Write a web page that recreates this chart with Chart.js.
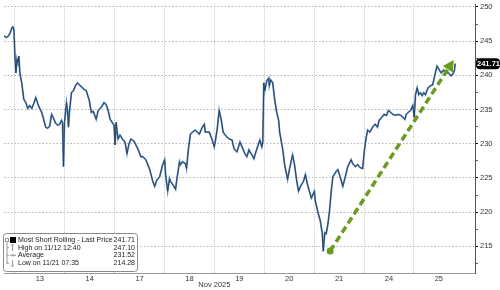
<!DOCTYPE html>
<html>
<head>
<meta charset="utf-8">
<script src="https://cdn.jsdelivr.net/npm/chart.js@4"></script>
<style>
    html, body { margin: 0; padding: 0; background: #fff; }
</style>
</head>
<body>
<canvas id="chart" width="500" height="290"></canvas>
<script>
// Trading days shown on the x axis (each day is one unit wide)
const dayLabels = ['13', '14', '17', '18', '19', '20', '21', '24', '25'];
const monthLabel = 'Nov 2025';

// Intraday price, x = position in trading days (0 = start of the 13th)
const priceX = [
    -0.219, -0.179, -0.139, -0.100, -0.060, -0.040, -0.020, 0.000, 0.020, 0.040, 0.060, 0.080, 0.099,
    0.139, 0.179, 0.219, 0.258, 0.298, 0.338, 0.378, 0.417, 0.457, 0.497, 0.537, 0.577, 0.616,
    0.656, 0.696, 0.736, 0.775, 0.815, 0.855, 0.895, 0.934, 0.954, 0.974, 0.994, 1.034, 1.054,
    1.074, 1.093, 1.133, 1.173, 1.213, 1.253, 1.332, 1.372, 1.431, 1.491, 1.531, 1.571, 1.630,
    1.670, 1.730, 1.789, 1.829, 1.869, 1.909, 1.948, 1.988, 2.008, 2.028, 2.068, 2.107, 2.167,
    2.207, 2.247, 2.286, 2.326, 2.386, 2.465, 2.525, 2.565, 2.624, 2.704, 2.764, 2.803, 2.843,
    2.903, 2.962, 3.002, 3.022, 3.062, 3.101, 3.121, 3.161, 3.221, 3.241, 3.300, 3.320, 3.360,
    3.420, 3.440, 3.479, 3.519, 3.559, 3.619, 3.698, 3.758, 3.797, 3.817, 3.897, 3.956, 3.996,
    4.016, 4.056, 4.096, 4.135, 4.175, 4.215, 4.294, 4.354, 4.394, 4.453, 4.513, 4.553, 4.612,
    4.652, 4.692, 4.752, 4.791, 4.851, 4.911, 4.950, 4.970, 4.990, 5.010, 5.050, 5.090, 5.100,
    5.129, 5.169, 5.209, 5.249, 5.288, 5.308, 5.368, 5.408, 5.467, 5.507, 5.567, 5.606, 5.646,
    5.686, 5.726, 5.785, 5.825, 5.865, 5.905, 5.944, 6.004, 6.024, 6.084, 6.123, 6.163, 6.183,
    6.213, 6.243, 6.276, 6.308, 6.342, 6.376, 6.441, 6.475, 6.507, 6.575, 6.626, 6.674, 6.740,
    6.773, 6.825, 6.873, 6.918, 6.972, 7.004, 7.038, 7.072, 7.117, 7.171, 7.223, 7.270, 7.302,
    7.356, 7.402, 7.450, 7.489, 7.535, 7.581, 7.634, 7.688, 7.734, 7.779, 7.819, 7.847, 7.887,
    7.932, 7.978, 8.006, 8.032, 8.066, 8.098, 8.131, 8.165, 8.197, 8.231, 8.284, 8.330, 8.376,
    8.416, 8.463, 8.509, 8.549, 8.595, 8.642, 8.694, 8.748, 8.782, 8.814, 8.827
];
const priceY = [
    245.82, 245.53, 245.68, 246.11, 246.97, 247.10, 246.69, 242.80, 240.35, 242.36, 241.79, 242.80, 240.35,
    238.76, 236.46, 236.02, 235.16, 235.59, 235.16, 235.88, 236.74, 235.88, 235.16, 234.58, 233.57, 232.42,
    232.27, 232.56, 234.29, 233.72, 233.00, 232.71, 232.85, 233.43, 233.00, 226.66, 233.14, 236.02, 234.87,
    232.42, 234.58, 237.46, 237.75, 238.47, 238.90, 238.33, 238.04, 237.75, 236.31, 234.58, 234.73, 233.57,
    234.87, 235.30, 236.02, 235.73, 234.87, 233.57, 233.14, 232.71, 229.83, 233.14, 230.69, 231.27, 230.55,
    230.26, 228.53, 229.97, 230.69, 230.40, 229.25, 228.10, 228.10, 227.66, 226.22, 224.49, 223.77, 224.64,
    225.21, 226.94, 227.66, 225.50, 223.05, 224.93, 224.49, 224.06, 223.34, 224.49, 227.37, 226.94, 227.37,
    227.09, 226.37, 229.25, 231.41, 231.70, 231.99, 231.41, 232.42, 232.85, 231.70, 231.70, 230.55, 229.54,
    230.26, 232.13, 234.87, 233.57, 231.70, 231.27, 230.69, 230.55, 229.25, 228.81, 230.26, 229.54, 228.53,
    228.10, 229.11, 228.38, 227.81, 229.25, 230.55, 229.54, 230.26, 238.90, 237.75, 239.19, 239.62, 238.47,
    239.34, 238.90, 236.46, 234.58, 233.43, 231.70, 229.25, 226.94, 224.78, 226.37, 228.38, 226.94, 224.78,
    223.05, 223.77, 224.49, 225.50, 224.06, 223.05, 222.04, 223.05, 221.61, 219.74, 218.73, 216.86, 214.28,
    217.00, 216.86, 218.30, 220.17, 223.05, 225.21, 225.93, 226.22, 225.50, 223.77, 225.21, 226.65, 227.66,
    227.09, 226.65, 226.94, 226.51, 226.37, 228.81, 230.69, 231.99, 231.70, 232.42, 232.85, 232.42, 233.43,
    233.86, 234.29, 234.15, 234.87, 234.58, 234.29, 234.15, 234.29, 234.15, 233.86, 233.57, 234.29, 234.58,
    234.87, 235.59, 233.86, 237.17, 238.18, 237.17, 237.46, 237.03, 237.46, 237.17, 238.18, 238.47, 238.61,
    239.91, 241.35, 240.78, 240.35, 240.78, 240.35, 240.35, 239.91, 240.21, 240.78, 241.71
];

// Trend arrow drawn over the rebound
const arrowX = [6.32, 8.69];
const arrowY = [214.3, 241.0];

// Legend box
const legendLabels = ['Most Short Rolling - Last Price', 'High on 11/12 12:40', 'Average', 'Low on 11/21 07:35'];
const legendValues = ['241.71', '247.10', '231.52', '214.28'];
const lastPrice = 241.71;

const FONT = '"Liberation Sans", Arial, sans-serif';
const GREEN = '#6b9a20';

function isMajor(v) {
    return Math.abs(v / 5 - Math.round(v / 5)) < 1e-6;
}

const overlay = {
    id: 'overlay',
    afterDatasetsDraw(chart) {
        const ctx = chart.ctx;
        const xs = chart.scales.x, ys = chart.scales.y;

        // arrow head
        const x0 = xs.getPixelForValue(arrowX[0]), y0 = ys.getPixelForValue(arrowY[0]);
        const x1 = xs.getPixelForValue(arrowX[1]), y1 = ys.getPixelForValue(arrowY[1]);
        const len = Math.hypot(x1 - x0, y1 - y0);
        const ux = (x1 - x0) / len, uy = (y1 - y0) / len;
        const tipX = x1 + ux * 10, tipY = y1 + uy * 10;
        const bx = x1 - ux * 1, by = y1 - uy * 1;
        ctx.save();
        ctx.fillStyle = GREEN;
        ctx.beginPath();
        ctx.moveTo(tipX, tipY);
        ctx.lineTo(bx - uy * 6, by + ux * 6);
        ctx.lineTo(bx + uy * 6, by - ux * 6);
        ctx.closePath();
        ctx.fill();
        ctx.restore();
    },
    afterDraw(chart) {
        const ctx = chart.ctx;
        const xs = chart.scales.x, ys = chart.scales.y;
        ctx.save();

        // last price tag on the right axis
        const py = ys.getPixelForValue(lastPrice);
        ctx.fillStyle = '#000';
        ctx.beginPath();
        ctx.roundRect(476, py - 5.5, 24, 11, 4);
        ctx.fill();
        ctx.fillStyle = '#fff';
        ctx.font = 'bold 7.5px ' + FONT;
        ctx.textAlign = 'center';
        ctx.textBaseline = 'middle';
        ctx.fillText(lastPrice.toFixed(2), 488.5, py + 0.5);

        // month label under the day ticks
        ctx.fillStyle = '#333';
        ctx.font = '7.5px ' + FONT;
        ctx.fillText(monthLabel, xs.getPixelForValue(4), 285);

        // legend box
        ctx.fillStyle = '#fff';
        ctx.strokeStyle = '#8a8a8a';
        ctx.lineWidth = 1;
        ctx.beginPath();
        ctx.roundRect(3.5, 233.5, 134, 38, 3);
        ctx.fill();
        ctx.stroke();

        const rows = [240, 247.7, 255.3, 263.3];
        ctx.fillStyle = '#222';
        ctx.font = '7px ' + FONT;
        ctx.textBaseline = 'middle';
        rows.forEach((ry, i) => {
            ctx.textAlign = 'left';
            ctx.fillText(legendLabels[i], 18, ry);
            ctx.textAlign = 'right';
            ctx.fillText(legendValues[i], 135, ry);
        });

        // legend symbols
        ctx.strokeStyle = '#999';
        ctx.strokeRect(5.5, 238.5, 3, 3);
        ctx.fillStyle = '#000';
        ctx.fillRect(10, 237, 6, 6);
        ctx.beginPath();
        ctx.moveTo(7, 242); ctx.lineTo(7, 264);
        [247.7, 255.3, 263.3].forEach(ry => { ctx.moveTo(7, ry); ctx.lineTo(9, ry); });
        // high marker
        ctx.moveTo(12.5, 245); ctx.lineTo(12.5, 251);
        ctx.moveTo(11, 245); ctx.lineTo(14, 245);
        // average marker
        ctx.moveTo(10, 255.3); ctx.lineTo(16, 255.3);
        ctx.moveTo(13, 253.8); ctx.lineTo(13, 256.8);
        // low marker
        ctx.moveTo(12.5, 260); ctx.lineTo(12.5, 266);
        ctx.moveTo(11, 266); ctx.lineTo(14, 266);
        ctx.stroke();

        ctx.restore();
    }
};

const priceData = priceX.map((x, i) => ({ x: x, y: priceY[i] }));
const arrowData = arrowX.map((x, i) => ({ x: x, y: arrowY[i] }));

new Chart(document.getElementById('chart'), {
    type: 'line',
    data: {
        datasets: [{
            data: arrowData,
            borderColor: GREEN,
            borderWidth: 3.5,
            borderDash: [7, 4],
            pointRadius: [3.5, 0],
            pointBackgroundColor: GREEN,
            pointBorderWidth: 0
        }, {
            // dark price line
            data: priceData,
            borderColor: '#2a3a52',
            borderWidth: 0.9,
            pointRadius: 0,
            tension: 0
        }, {
            // blue halo under the price line (Bloomberg-style)
            data: priceData,
            borderColor: '#5a8fc4',
            borderWidth: 1.8,
            pointRadius: 0,
            tension: 0
        }]
    },
    options: {
        responsive: false,
        devicePixelRatio: 1,
        animation: false,
        layout: { padding: 0 },
        plugins: {
            legend: { display: false },
            tooltip: { enabled: false }
        },
        scales: {
            x: {
                type: 'linear',
                min: -0.219,
                max: 9.225,
                afterBuildTicks: axis => {
                    const t = [];
                    for (let i = 0; i < dayLabels.length; i++) {
                        t.push({ value: i });
                        t.push({ value: i + 0.5 });
                    }
                    axis.ticks = t;
                },
                afterFit: s => {
                    s.height = 17;
                    s.paddingLeft = 0;
                    s.paddingRight = 0;
                },
                ticks: {
                    autoSkip: false,
                    maxRotation: 0,
                    padding: 1,
                    color: '#333',
                    font: { family: FONT, size: 7.5 },
                    callback: v => Number.isInteger(v) ? '' : dayLabels[Math.floor(v)]
                },
                grid: {
                    drawTicks: false,
                    color: c => (c.tick && Number.isInteger(c.tick.value)) ? '#cacaca' : 'rgba(0,0,0,0)',
                    lineWidth: 1
                },
                border: { display: true, color: '#9a9a9a', dash: [1, 1] }
            },
            y: {
                position: 'right',
                min: 211.1,
                max: 250.43,
                afterFit: s => {
                    s.width = 25;
                    s.paddingTop = 0;
                    s.paddingBottom = 0;
                },
                ticks: {
                    stepSize: 2.5,
                    includeBounds: false,
                    padding: 2,
                    color: '#333',
                    font: { family: FONT, size: 7.5 },
                    callback: v => isMajor(v) ? String(Math.round(v)) : ''
                },
                grid: {
                    drawTicks: true,
                    tickLength: 3,
                    tickColor: c => (c.tick && isMajor(c.tick.value)) ? '#000' : '#666',
                    color: c => (c.tick && isMajor(c.tick.value)) ? '#b4b4b4' : 'rgba(0,0,0,0)'
                },
                border: { display: true, color: '#555', dash: [1.5, 2] }
            }
        }
    },
    plugins: [overlay]
});
</script>
</body>
</html>
